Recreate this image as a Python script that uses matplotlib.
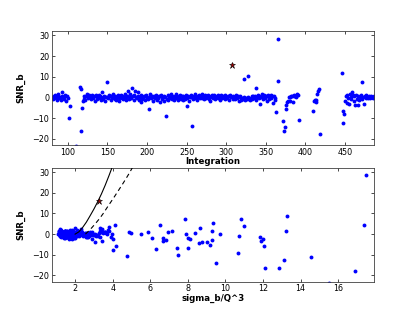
import numpy as np
import matplotlib
matplotlib.use("Agg")
import matplotlib.pyplot as plt

# ---------------- data ----------------
# integrations with near-zero SNR (segments), outliers listed separately
seg_ranges = [(80, 101), (119, 363), (377, 392), (411, 418), (450, 490)]

snr1 = [0.4, -0.8, 0.9, -0.3, 1.2, 0.1, -1.1, 0.6, 1.8, -0.5,
        0.3, -1.4, 0.8, 2.4, 0.0, -0.9, 1.1, 0.5, -1.7, 0.7,
        -0.2]
sig1 = [1.3, 1.6, 1.2, 1.5, 1.9, 1.4, 1.7, 1.3, 2.1, 1.5,
        1.2, 1.8, 1.4, 2.3, 1.6, 1.3, 1.5, 1.9, 2.0, 1.4,
        1.7]

snr2 = [-1.8, -0.6, 0.5, -1.2, 0.9, 1.6, 0.2, -0.4, 1.1, 0.7,
        -0.9, 1.3, 0.4, -0.2, 0.8, -1.5, 0.6, 1.0, -0.7, 0.3,
        1.4, -0.1, 0.5, -1.0, 2.8, 0.2, -0.8, 0.9, -1.9, 0.4,
        0.1, -0.5, 1.2, 0.6, -1.3, 0.8, -0.3, 1.7, 0.0, -0.6,
        0.7, -1.1, 0.3, 1.0, -0.4, -1.6, 0.5, 1.2, -0.2, 0.9,
        -0.7, 0.4, 1.5, -1.2, 0.2, 0.8, -0.9, 0.3, 1.9, -0.5,
        0.6, -1.4, 1.1, 0.0, -0.3, 2.5, 0.7, -1.0, 0.4, -2.2,
        1.0, -0.6, 0.2, 0.9, -1.3, 0.5, 1.4, -0.1, -0.8, 0.3,
        1.8, -0.4, 0.6, -1.7, 0.1, 0.8, -0.5, 1.2, -1.1, 0.4,
        -0.2, 0.7, -2.4, 0.5, 1.3, -0.9, 0.2, -1.5, 0.9, 0.0,
        -0.7, 1.1, -1.2, 0.4, -0.3, 1.6, -0.8, 0.6, 0.2, -1.4,
        0.8, -0.5, 1.9, 0.3, -1.0, 0.7, -0.2, 1.2, -0.6, 0.5,
        -1.3, 0.9, 0.1, -0.7, 1.4, -0.4, 0.6, -1.8, 0.3, 1.0,
        0.2, -0.9, 0.8, 1.5, -0.3, 0.4, -1.1, 0.7, 0.0, 1.3,
        -0.5, 0.9, -0.1, 1.6, 0.5, -0.8, 1.1, 0.3, -0.4, 0.8,
        1.2, -0.6, 0.4, -1.9, 0.7, 1.0, -0.2, 0.5, 1.4, -0.7,
        0.3, 0.9, -0.5, 1.1, 0.6, -1.0, 0.2, 1.3, -0.3, 0.7,
        0.4, -0.8, 1.0, 0.1, -0.4, 0.8, -1.2, 0.5, 1.1, 0.0,
        -0.6, 0.7, 0.2, -0.9, 1.2, 0.4, -0.3, 0.9, -1.5, 0.6,
        0.1, -1.0, -0.4, -0.7, 0.3, -1.3, -0.5, -0.9, 0.2, -0.6,
        -1.1, -0.3, 0.5, -0.8, 0.9, -0.2, 0.6, -1.4, 0.3, 1.2,
        -0.5, 0.8, 0.1, 1.5, -0.9, 0.4, 1.0, -0.3, 0.7, -1.7,
        0.5, 1.1, -0.6, 0.2, 1.3, -0.4, 0.8, -2.6, 0.6, -0.3,
        -1.2]
sig2 = [1.42, 1.18, 1.65, 1.33, 1.87, 1.21, 1.54, 1.76, 1.29, 1.48,
        1.63, 1.15, 1.92, 1.37, 1.58, 1.24, 2.05, 1.45, 1.71, 1.32,
        1.26, 1.83, 1.51, 1.39, 1.97, 1.12, 1.68, 1.44, 1.80, 1.57,
        2.15, 1.35, 1.62, 1.28, 1.74, 1.49, 1.19, 1.88, 1.41, 1.66,
        1.53, 1.31, 2.24, 1.47, 1.22, 1.79, 1.60, 1.36, 1.95, 1.27,
        1.70, 1.43, 1.14, 1.85, 1.56, 2.32, 1.38, 1.64, 1.25, 1.81,
        1.46, 1.73, 1.30, 2.08, 1.59, 1.20, 1.90, 1.52, 1.34, 1.67,
        1.23, 1.99, 1.40, 1.61, 1.77, 1.16, 1.55, 2.41, 1.32, 1.48,
        1.86, 1.27, 1.69, 1.44, 1.11, 1.75, 1.58, 2.12, 1.36, 1.63,
        1.50, 1.21, 1.82, 1.39, 2.27, 1.54, 1.30, 1.71, 1.45, 1.93,
        1.17, 1.66, 1.48, 1.35, 2.02, 1.59, 1.24, 1.78, 1.42, 1.61,
        2.36, 1.29, 1.74, 1.52, 1.19, 1.88, 1.43, 1.67, 2.18, 1.37,
        1.55, 1.84, 1.26, 1.62, 1.47, 2.49, 1.33, 1.70, 1.14, 1.96,
        1.40, 1.58, 1.22, 1.79, 1.51, 1.36, 2.10, 1.64, 1.28, 1.45,
        1.72, 1.31, 1.89, 1.46, 1.60, 2.21, 1.38, 1.53, 1.20, 1.83,
        1.49, 2.55, 1.34, 1.68, 1.25, 1.57, 1.91, 1.42, 1.76, 1.30,
        1.63, 1.44, 2.00, 1.52, 1.18, 1.73, 1.39, 2.30, 1.56, 1.27,
        1.81, 1.35, 1.61, 1.47, 2.14, 1.23, 1.69, 1.54, 1.37, 1.92,
        1.28, 1.75, 1.50, 2.44, 1.41, 1.65, 1.32, 1.86, 1.58, 1.21,
        2.06, 1.45, 1.71, 1.33, 1.60, 2.62, 1.48, 1.26, 1.78, 1.39,
        1.54, 2.25, 1.36, 1.67, 1.43, 1.90, 1.29, 2.58, 1.52, 1.74,
        1.38, 1.62, 2.38, 1.46, 1.81, 1.24, 1.57, 2.09, 1.35, 1.95,
        1.68, 1.31, 2.52, 1.49, 1.77, 1.40, 2.20, 2.88, 1.55, 1.44,
        2.66]

snr3 = [-2.2, -1.7, 0.0, -1.7, 0.2, 0.6, 0.9, -2.2, 0.7, 1.0,
        0.8, 0.0, 1.3, 1.5, 1.2]
sig3 = [8.1, 6.08, 7.9, 7.99, 5.5, 8.36, 4.88, 4.0, 5.0, 5.87,
        6.94, 9.73, 9.3, 13.2, 3.6]

snr4 = [-1.7, -1.0, -2.3, -1.4, 1.7, 2.9, 4.2]
sig4 = [6.7, 10.7, 12.0, 11.82, 7.15, 8.63, 17.4]

snr5 = [-1.5, 0.6, -2.7, 1.2, -0.4, -3.0, 1.8, -0.9, 0.3, 2.6,
        1.0, -1.6, 0.5, -3.5, 1.4, -0.6, -3.8, 0.9, -1.1, 0.2,
        1.3, 7.4, -0.8, 0.4, -3.3, 0.7, -0.3, 1.1, 0.0, -0.5,
        0.6, 0.2, -0.2, 0.8, 0.1, -0.4, 0.5, 0.3, -0.1, 0.4]
sig5 = [3.3, 2.9, 6.82, 3.6, 2.7, 9.28, 3.75, 3.1, 2.55, 3.45,
        2.8, 3.9, 2.65, 6.68, 3.35, 2.95, 9.0, 3.55, 2.75, 3.05,
        3.8, 10.83, 3.2, 2.6, 11.9, 3.65, 2.85, 3.4, 2.7, 3.0,
        3.5, 2.62, 3.15, 2.9, 3.7, 2.58, 3.25, 2.8, 3.95, 2.68]

out_int = [101, 103, 110, 115, 116, 117, 118, 150, 176, 181,
           185, 203, 224, 251, 257, 322, 328, 338, 343, 363,
           365, 366, 372, 373, 374, 375, 376, 392, 410, 418,
           446, 447, 448, 449]
out_snr = [-10.1, -4.3, -23.5, 5.2, -16.3, 4.0, -5.2, 7.3, 3.3, 4.6,
           2.9, -5.6, -9.0, -3.9, -13.8, 8.8, 10.2, 4.6, -3.2, -7.0,
           8.1, 28.5, -11.3, -16.3, -14.3, -5.6, -3.8, -10.7, -6.6, -17.9,
           12.0, -12.5, -6.5, -7.8]
out_sig = [7.47, 8.6, 15.5, 9.34, 12.13, 11.0, 9.2, 7.83, 3.78, 4.1,
           3.33, 4.17, 10.65, 3.05, 9.52, 13.28, 19.0, 6.5, 3.42, 6.3,
           18.6, 17.5, 14.58, 12.84, 18.9, 12.04, 8.75, 4.75, 8.0, 16.9,
           19.3, 13.1, 7.42, 4.0]

star_int = 307
star_snr = 15.8
star_sig = 3.26

# model curves
solid_x = [2.0, 2.2, 2.4, 2.6, 2.8, 3.0, 3.2, 3.4, 3.6, 3.8, 4.0]
solid_y = [0.0, 1.1, 3.2, 5.8, 8.9, 12.1, 15.6, 19.4, 23.6, 28.2, 33.0]
dashed_x = [2.55, 2.7, 2.9, 3.1, 3.3, 3.5, 3.7, 3.9, 4.1, 4.3, 4.5, 4.7, 4.9, 5.1, 5.2]
dashed_y = [0.0, 1.3, 3.2, 5.3, 7.5, 10.0, 12.8, 15.5, 18.2, 21.0, 23.8, 26.7, 29.7, 33.0, 34.7]

# ---------------- assemble ----------------
all_range = np.concatenate([np.arange(a, b) for a, b in seg_ranges])
core_int = np.setdiff1d(all_range, np.array(out_int + [star_int]))
core_snr = np.array(snr1 + snr2 + snr3 + snr4 + snr5)
core_sig = np.array(sig1 + sig2 + sig3 + sig4 + sig5)
assert len(core_int) == len(core_snr) == len(core_sig), (len(core_int), len(core_snr), len(core_sig))

integ = np.concatenate([core_int, out_int])
snr = np.concatenate([core_snr, out_snr])
sig = np.concatenate([core_sig, out_sig])

# ---------------- plot ----------------
plt.rcParams['font.family'] = ['DejaVu Sans']
fig = plt.figure(figsize=(4.15, 3.13), dpi=100)
W, H = 415.0, 313.0
ax1 = fig.add_axes([52 / W, 1 - 145 / H, (373.5 - 52) / W, (145 - 31.3) / H])
ax2 = fig.add_axes([52 / W, 1 - 281.7 / H, (373.5 - 52) / W, (281.7 - 167.9) / H])

dot = dict(linestyle='none', marker='o', ms=2.8, color='b', mec='b', mew=0)
star = dict(linestyle='none', marker='*', ms=4.6, color='#a00000', mec='k', mew=0.4)

ax1.plot(integ, snr, **dot)
ax1.plot([star_int], [star_snr], **star)
ax1.set_xlim(80, 486)
ax1.set_ylim(-23, 32)
ax1.set_xticks([100, 150, 200, 250, 300, 350, 400, 450])
ax1.set_yticks([-20, -10, 0, 10, 20, 30])
ax1.set_xlabel('Integration', fontsize=6.2, fontweight='bold', labelpad=0.5)
ax1.set_ylabel('SNR_b', fontsize=6.2, fontweight='bold', labelpad=5)

ax2.plot(sig, snr, **dot)
ax2.plot(solid_x, solid_y, color='k', lw=0.8, zorder=3)
ax2.plot(dashed_x, dashed_y, color='k', lw=0.8, ls=(0, (4, 3)), zorder=3)
ax2.plot([star_sig], [star_snr], zorder=4, **star)
ax2.set_xlim(0.77, 17.88)
ax2.set_ylim(-23, 32)
ax2.set_xticks([2, 4, 6, 8, 10, 12, 14, 16])
ax2.set_yticks([-20, -10, 0, 10, 20, 30])
ax2.set_xlabel('sigma_b/Q^3', fontsize=6.2, fontweight='bold', labelpad=0.5)
ax2.set_ylabel('SNR_b', fontsize=6.2, fontweight='bold', labelpad=5)

for ax in (ax1, ax2):
    ax.tick_params(direction='in', top=True, right=True, length=2.5, width=0.5,
                   labelsize=5.8, pad=2, colors='k')
    for s in ax.spines.values():
        s.set_linewidth(0.6)
        s.set_color('0.25')

fig.savefig('out.png', dpi=100, facecolor='white')
